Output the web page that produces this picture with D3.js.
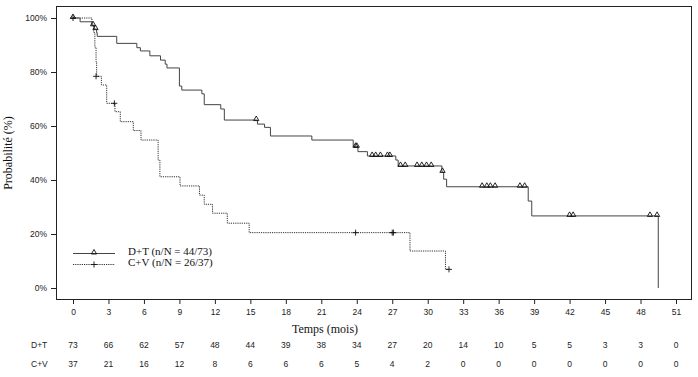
<!DOCTYPE html>
<html>
<head>
<meta charset="utf-8">
<script src="https://cdn.jsdelivr.net/npm/d3@7"></script>
<style>
  body { margin: 0; background: #fff; }
  svg { display: block; }
</style>
</head>
<body>
<div id="chart"></div>
<script>
// Courbes de survie (temps en mois, probabilité en %)
const dtTime = [0, 0.6, 1.6, 1.8, 2.0, 2.05, 3.7, 5.4, 5.7, 6.5, 7.4, 7.8, 7.95, 9.0, 9.2, 10.9, 11.1, 12.5, 12.8, 15.6, 16.2, 16.7, 20.2, 23.7, 24.1, 24.9, 27.3, 27.5, 31.2, 31.35, 31.6, 38.5, 38.8, 49.5];
const dtSurv = [100, 98.6, 97.3, 95.9, 94.5, 93.2, 90.6, 89.0, 87.8, 86.0, 84.4, 82.9, 81.5, 74.8, 73.3, 71.9, 67.9, 66.3, 62.2, 60.7, 59.5, 56.3, 54.8, 52.3, 50.5, 48.9, 47.4, 45.2, 42.9, 40.3, 37.5, 32.2, 26.7, 0];

const cvTime = [0, 1.6, 1.75, 1.85, 1.95, 2.0, 2.4, 2.85, 3.55, 4.0, 5.1, 5.75, 7.2, 7.35, 9.05, 10.7, 11.1, 11.8, 13.05, 14.9, 28.5, 31.5, 31.8];
const cvSurv = [100, 97.3, 94.6, 89.2, 83.8, 78.4, 75.2, 68.4, 65.3, 61.6, 58.3, 54.8, 47.4, 41.2, 37.8, 34.4, 31.0, 27.7, 24.0, 20.5, 13.7, 6.9, 6.9];

// Censures
const dtCensTime = [0, 1.7, 1.9, 15.5, 23.9, 24.0, 25.3, 25.6, 26.0, 26.6, 26.8, 27.7, 28.1, 29.1, 29.5, 29.9, 30.3, 31.25, 34.6, 35.0, 35.3, 35.7, 37.8, 38.2, 42.0, 42.3, 48.8, 49.4];
const dtCensSurv = [100, 97.3, 95.9, 62.2, 52.3, 52.3, 48.9, 48.9, 48.9, 48.9, 48.9, 45.2, 45.2, 45.2, 45.2, 45.2, 45.2, 43.0, 37.5, 37.5, 37.5, 37.5, 37.5, 37.5, 26.7, 26.7, 26.7, 26.7];
const cvCensTime = [0, 1.95, 3.5, 23.9, 27.0, 27.1, 31.8];
const cvCensSurv = [100, 78.4, 68.4, 20.5, 20.5, 20.5, 6.9];

// Nombre de sujets à risque
const riskTicks = [0, 3, 6, 9, 12, 15, 18, 21, 24, 27, 30, 33, 36, 39, 42, 45, 48, 51];
const dtRisk = [73, 66, 62, 57, 48, 44, 39, 38, 34, 27, 20, 14, 10, 5, 5, 3, 3, 0];
const cvRisk = [37, 21, 16, 12, 8, 6, 6, 6, 5, 4, 2, 0, 0, 0, 0, 0, 0, 0];

const yTicks = [0, 20, 40, 60, 80, 100];
const groups = ["D+T", "C+V"];
const legendLabels = ["D+T (n/N = 44/73)", "C+V (n/N = 26/37)"];

const W = 698, H = 377;
const sans = "'Liberation Sans', Arial, sans-serif";
const serif = "'Liberation Serif', 'Times New Roman', serif";

const svg = d3.select("#chart").append("svg")
    .attr("width", W)
    .attr("height", H);

const x = d3.scaleLinear().domain([0, 51]).range([73, 676]);
const y = d3.scaleLinear().domain([0, 100]).range([288, 18]);

// cadre
svg.append("rect")
    .attr("x", 56.5).attr("y", 6.5)
    .attr("width", 635).attr("height", 293)
    .attr("fill", "none")
    .attr("stroke", "#222")
    .attr("stroke-width", 1);

// axe X
const xAxis = svg.append("g")
    .attr("transform", "translate(0,300)")
    .call(d3.axisBottom(x).tickValues(riskTicks).tickSize(4).tickPadding(5));
xAxis.select(".domain").remove();
xAxis.selectAll("line").attr("stroke", "#222");
xAxis.selectAll("text").style("font-family", sans).style("font-size", "8.5px").attr("fill", "#222");

// axe Y
const yAxis = svg.append("g")
    .attr("transform", "translate(56,0)")
    .call(d3.axisLeft(y).tickValues(yTicks).tickSize(5).tickPadding(4).tickFormat(d => d + "%"));
yAxis.select(".domain").remove();
yAxis.selectAll("line").attr("stroke", "#222");
yAxis.selectAll("text").style("font-family", sans).style("font-size", "8.5px").attr("fill", "#222");

// titres d'axes
svg.append("text")
    .attr("x", 325).attr("y", 333)
    .attr("text-anchor", "middle")
    .style("font-family", serif).style("font-size", "12px")
    .attr("fill", "#111")
    .text("Temps (mois)");

svg.append("text")
    .attr("transform", "translate(12,153) rotate(-90)")
    .attr("text-anchor", "middle")
    .style("font-family", serif).style("font-size", "12px")
    .attr("fill", "#111")
    .text("Probabilité (%)");

// courbes
const line = d3.line()
    .x(d => x(d[0]))
    .y(d => y(d[1]))
    .curve(d3.curveStepAfter);

const dtData = dtTime.map((t, i) => [t, dtSurv[i]]);
const cvData = cvTime.map((t, i) => [t, cvSurv[i]]);

svg.append("path")
    .datum(cvData)
    .attr("d", line)
    .attr("fill", "none")
    .attr("stroke", "#333")
    .attr("stroke-width", 1)
    .attr("stroke-dasharray", "1.2,1");

svg.append("path")
    .datum(dtData)
    .attr("d", line)
    .attr("fill", "none")
    .attr("stroke", "#444")
    .attr("stroke-width", 1);

// marqueurs de censure
const tri = d3.symbol().type(d3.symbolTriangle).size(12);
const plus = (cx, cy) => `M${cx - 3},${cy}H${cx + 3}M${cx},${cy - 3}V${cy + 3}`;

svg.selectAll(".cens-dt")
    .data(dtCensTime.map((t, i) => [t, dtCensSurv[i]]))
    .join("path")
    .attr("class", "cens-dt")
    .attr("transform", d => `translate(${x(d[0])},${y(d[1]) - 1})`)
    .attr("d", tri)
    .attr("fill", "none")
    .attr("stroke", "#111")
    .attr("stroke-width", 0.9);

svg.selectAll(".cens-cv")
    .data(cvCensTime.map((t, i) => [t, cvCensSurv[i]]))
    .join("path")
    .attr("class", "cens-cv")
    .attr("d", d => plus(x(d[0]), y(d[1])))
    .attr("fill", "none")
    .attr("stroke", "#111")
    .attr("stroke-width", 0.9);

// légende
const legend = svg.append("g");
legend.append("line")
    .attr("x1", 73).attr("x2", 115).attr("y1", 253.5).attr("y2", 253.5)
    .attr("stroke", "#444").attr("stroke-width", 1);
legend.append("path")
    .attr("transform", "translate(94,252.5)")
    .attr("d", tri)
    .attr("fill", "none").attr("stroke", "#111").attr("stroke-width", 0.9);
legend.append("line")
    .attr("x1", 73).attr("x2", 115).attr("y1", 264.5).attr("y2", 264.5)
    .attr("stroke", "#333").attr("stroke-width", 1).attr("stroke-dasharray", "1.2,1");
legend.append("path")
    .attr("d", plus(94, 264.5))
    .attr("fill", "none").attr("stroke", "#111").attr("stroke-width", 0.9);

legendLabels.forEach((lab, i) => {
    legend.append("text")
        .attr("x", 128).attr("y", 254.5 + i * 11.5)
        .style("font-family", serif).style("font-size", "11px")
        .attr("fill", "#111")
        .text(lab);
});

// tableau des sujets à risque
[dtRisk, cvRisk].forEach((row, r) => {
    const yy = 348 + r * 18.5;
    svg.append("text")
        .attr("x", 31).attr("y", yy)
        .style("font-family", sans).style("font-size", "8.5px")
        .attr("fill", "#222")
        .text(groups[r]);
    svg.selectAll(".risk" + r)
        .data(row)
        .join("text")
        .attr("class", "risk" + r)
        .attr("x", (d, i) => x(riskTicks[i]))
        .attr("y", yy)
        .attr("text-anchor", "middle")
        .style("font-family", sans).style("font-size", "8.5px")
        .attr("fill", "#222")
        .text(d => d);
});
</script>
</body>
</html>
